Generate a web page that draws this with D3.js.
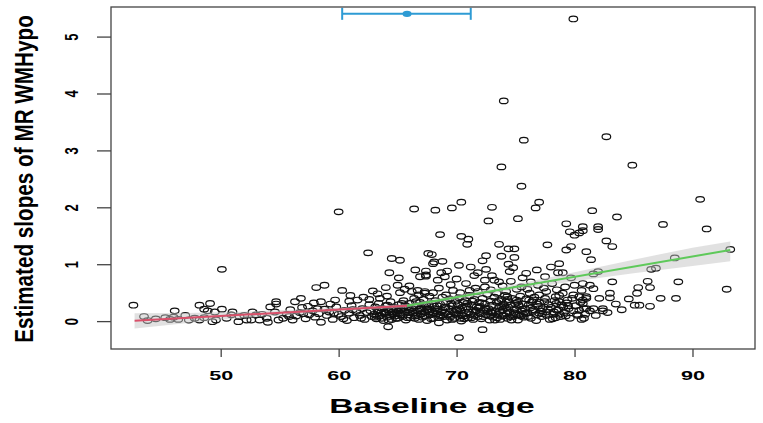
<!DOCTYPE html>
<html>
<head>
<meta charset="utf-8">
<script src="https://cdn.jsdelivr.net/npm/d3@7"></script>
<style>
  body { margin: 0; background: #fff; }
  svg { display: block; }
</style>
</head>
<body>
<div id="chart"></div>
<script>
// [baseline age, estimated slope]
const points = [
  // upper outliers
  [79.9,5.31],[74.0,3.87],[75.7,3.18],[82.7,3.24],[73.8,2.71],[84.9,2.74],[75.5,2.37],[90.65,2.14],
  [60.0,1.92],[66.4,1.97],[68.2,1.95],[69.6,1.99],[70.4,2.09],[73.0,2.0],[77.0,2.09],[76.7,1.99],
  [72.7,1.76],[75.2,1.80],[81.5,1.94],[83.6,1.83],[79.3,1.71],[80.7,1.66],[82.0,1.66],[87.5,1.70],[91.2,1.62],
  [82.0,1.61],[80.7,1.59],[80.4,1.55],[82.7,1.41],[83.2,1.31],[81.0,1.22],[81.4,1.08],[88.5,1.11],[93.2,1.26],
  [86.5,0.91],[86.9,0.93],[82.0,0.87],[81.6,0.83],[83.2,0.69],[86.2,0.70],[88.8,0.69],[92.9,0.56],
  [81.3,0.63],[80.6,0.54],[81.6,0.57],[85.4,0.59],[86.4,0.59],[85.3,0.49],[83.0,0.49],[83.0,0.41],
  [82.1,0.40],[84.6,0.39],[87.3,0.40],[88.6,0.40],[80.7,0.37],[81.0,0.43],[85.1,0.28],[85.5,0.28],
  [86.4,0.26],[80.8,0.22],[81.6,0.22],[82.4,0.22],[82.4,0.18],[81.3,0.18],[80.7,0.31],
  [80.9,0.12],[81.8,0.10],[82.8,0.15],[83.5,0.30],[84.0,0.20],[80.2,0.12],[80.8,0.05],
  [68.6,1.52],[70.4,1.49],[71.0,1.44],[70.9,1.35],[73.6,1.35],[77.7,1.34],[79.6,1.57],[80.0,1.51],
  [79.7,1.31],[79.3,1.25],[74.4,1.27],[74.9,1.27],[67.9,1.17],[72.5,1.15],[72.2,1.06],[73.8,1.14],
  [74.9,1.12],[68.1,1.04],[68.0,1.01],[68.8,1.05],[70.2,0.98],[71.2,0.95],[71.8,0.85],[72.5,0.91],
  [74.4,1.0],[74.8,0.94],[74.5,0.87],[75.9,0.84],[78.7,1.01],[78.6,0.85],
  [67.4,0.88],[67.4,0.79],[68.7,0.85],[69.0,0.78],[68.4,0.72],[66.9,0.78],[72.4,0.72],[73.2,0.72],
  [73.6,0.69],[76.3,0.69],[77.5,0.78],[80.0,0.63],[80.7,0.66],[67.3,0.52],[68.0,0.50],[69.7,0.54],
  [69.1,0.46],[71.1,0.54],[71.8,0.52],[72.4,0.60],[73.4,0.49],[74.2,0.52],[75.1,0.56],[74.3,0.43],
  [76.2,0.49],[77.0,0.46],[77.6,0.52],[76.5,0.37],[78.4,0.43],[79.0,0.49],[78.7,0.34],[79.4,0.37],
  [79.9,0.46],[80.4,0.43],[81.0,0.40],[72.2,-0.15],[70.2,-0.29],[78.4,0.06],[77.0,0.14],[75.3,0.11],
  [73.9,0.09],[72.9,0.16],[70.3,0.05],[68.6,0.09],[67.7,0.16],[67.0,0.22],[80.4,0.19],[81.0,0.22],
  // left part
  [42.6,0.28],[43.5,0.08],[43.8,0.01],[50.1,0.91],[46.1,0.18],[45.3,0.06],[45.7,0.03],[46.4,0.03],
  [46.0,0.07],[48.2,0.28],[49.1,0.31],[48.6,0.21],[48.9,0.18],[50.1,0.21],[49.5,0.16],[47.8,0.05],
  [48.2,0.02],[49.3,-0.01],[49.6,0.02],[48.6,0.06],[50.9,0.11],[51.6,0.08],[51.5,-0.01],[52.2,0.02],
  [52.7,0.16],[53.0,0.11],[52.6,0.02],[53.3,0.02],[53.9,0.05],[54.2,0.25],[54.7,0.30],[54.6,0.16],[54.9,0.02],
  [44.5,0.04],[47.0,0.10],[47.3,0.02],[50.5,0.05],[51.0,0.16],[52.0,0.10],[53.5,0.12],[54.0,-0.02],
  [62.5,1.20],[64.5,1.10],[65.2,1.07],[67.6,1.19],[64.3,0.85],[66.5,0.90],[67.4,0.81],[65.1,0.76],
  [65.0,0.63],[58.1,0.59],[58.8,0.63],[60.3,0.54],[62.9,0.53],[64.0,0.59],[65.6,0.56],[66.2,0.52],
  [66.7,0.54],[67.3,0.49],[54.7,0.34],[56.3,0.34],[57.4,0.26],[58.5,0.34],[59.7,0.37],[60.9,0.35],
  [61.6,0.37],[62.6,0.38],[63.5,0.40],[64.2,-0.10],
  [56.8,0.40],[57.9,0.32],[59.3,0.30],[61.0,0.45],[62.1,0.42],
  // 55 - 63
  [55.3,0.05],[55.6,0.12],[55.9,0.20],[56.1,0.02],[56.4,0.09],[56.7,0.15],[56.9,0.24],[57.2,0.04],
  [57.5,0.11],[57.8,0.18],[58.0,0.07],[58.3,0.13],[58.5,-0.02],[58.8,0.21],[59.0,0.10],[59.2,0.16],
  [59.5,0.03],[59.8,0.25],[60.0,0.12],[60.2,0.08],[60.5,0.19],[60.7,0.01],[60.9,0.14],[61.1,0.27],
  [61.3,0.06],[61.5,0.17],[61.8,0.10],[62.0,0.22],[62.2,0.03],[62.4,0.15],[62.6,0.29],[62.8,0.08],
  [55.8,0.08],[57.0,0.13],[58.2,0.22],[59.6,0.14],[60.4,0.04],[61.2,0.20],[61.9,0.05],[62.7,0.18],
  // dense band
  [63.0,0.12],[63.1,0.25],[63.2,0.04],[63.3,0.18],[63.4,0.31],[63.5,0.09],[63.6,0.15],[63.7,0.22],[63.8,0.01],[63.9,0.13],
  [64.0,0.27],[64.1,0.07],[64.2,0.19],[64.3,0.11],[64.4,0.34],[64.5,0.03],[64.6,0.16],[64.7,0.24],[64.8,0.09],[64.9,0.20],[64.95,0.13],
  [65.0,0.05],[65.1,0.29],[65.2,0.14],[65.3,0.21],[65.4,0.08],[65.5,0.36],[65.6,0.17],[65.7,0.02],[65.8,0.25],[65.9,0.11],[65.95,0.19],
  [66.0,0.31],[66.1,0.06],[66.2,0.22],[66.3,0.14],[66.4,0.40],[66.5,0.09],[66.6,0.27],[66.7,0.18],[66.8,0.03],[66.9,0.33],[66.95,0.12],
  [67.0,0.24],[67.1,0.07],[67.2,0.38],[67.3,0.15],[67.4,0.28],[67.5,0.01],[67.6,0.20],[67.7,0.44],[67.8,0.11],[67.9,0.31],[67.95,0.17],
  [68.0,0.05],[68.1,0.26],[68.2,0.36],[68.3,0.13],[68.4,0.21],[68.5,-0.03],[68.6,0.30],[68.7,0.16],[68.8,0.42],[68.9,0.08],[68.95,0.24],
  [69.0,0.14],[69.1,0.33],[69.2,0.02],[69.3,0.22],[69.4,0.39],[69.5,0.10],[69.6,0.27],[69.7,0.17],[69.8,0.05],[69.9,0.35],[69.95,0.20],
  [70.0,0.12],[70.1,0.29],[70.2,0.41],[70.3,0.18],[70.4,0.00],[70.5,0.24],[70.6,0.09],[70.7,0.36],[70.8,0.15],[70.9,0.31],[70.95,0.06],
  [71.0,0.21],[71.1,0.45],[71.2,0.12],[71.3,0.28],[71.4,0.03],[71.5,0.38],[71.6,0.17],[71.7,0.25],[71.8,0.08],[71.9,0.33],[71.95,0.14],
  [72.0,0.26],[72.1,0.04],[72.2,0.40],[72.3,0.19],[72.4,0.30],[72.5,0.11],[72.6,0.47],[72.7,0.22],[72.8,0.02],[72.9,0.35],[72.95,0.15],
  [73.0,0.28],[73.1,0.07],[73.2,0.42],[73.3,0.18],[73.4,0.33],[73.5,0.12],[73.6,0.24],[73.7,0.03],[73.8,0.38],[73.9,0.20],[73.95,0.30],
  [74.0,0.10],[74.1,0.45],[74.2,0.23],[74.3,0.05],[74.4,0.34],[74.5,0.16],[74.6,0.28],[74.7,0.40],[74.8,0.08],[74.9,0.21],[74.95,0.31],
  [75.0,0.13],[75.1,0.37],[75.2,0.02],[75.3,0.26],[75.4,0.44],[75.5,0.18],[75.6,0.30],[75.7,0.07],[75.8,0.22],[75.9,0.39],
  [76.0,0.15],[76.1,0.28],[76.3,0.05],[76.4,0.34],[76.5,0.20],[76.6,0.42],[76.8,0.11],[76.9,0.26],
  [77.0,0.33],[77.2,0.08],[77.3,0.22],[77.5,0.40],[77.6,0.16],[77.8,0.29],[77.9,0.03],
  [78.0,0.24],[78.2,0.12],[78.3,0.36],[78.5,0.19],[78.7,0.45],[78.8,0.08],[78.9,0.28],
  [79.1,0.15],[79.3,0.32],[79.5,0.22],[79.6,0.05],[79.8,0.40],[79.9,0.18],
  [80.1,0.27],[80.3,0.10],[80.5,0.33],[80.6,0.03],
  [63.05,0.07],[63.45,0.20],[63.85,0.16],[64.25,0.01],[64.65,0.12],[65.05,0.18],[65.45,0.23],[65.85,0.06],
  [66.25,0.17],[66.65,0.10],[67.05,0.13],[67.45,0.21],[67.85,0.04],[68.25,0.18],[68.65,0.11],[69.05,0.25],
  [69.45,0.07],[69.85,0.15],[70.25,0.22],[70.65,0.04],[71.05,0.16],[71.45,0.10],[71.85,0.23],[72.25,0.08],
  [72.65,0.17],[73.05,0.14],[73.45,0.06],[73.85,0.25],[74.25,0.13],[74.65,0.02],[75.05,0.20],[75.45,0.09],
  [75.85,0.14],[76.25,0.23],[76.75,0.01],[77.15,0.18],[77.65,0.10],[78.15,0.04],[78.65,0.20],[79.25,0.09],
  [63.25,0.10],[63.65,0.05],[64.05,0.15],[64.45,0.22],[64.85,0.05],[65.25,0.11],[65.65,0.27],[66.05,0.15],
  [66.45,0.05],[66.85,0.21],[67.25,0.09],[67.65,0.26],[68.05,0.14],[68.45,0.06],[68.85,0.19],[69.25,0.12],
  [69.65,0.03],[70.05,0.20],[70.45,0.11],[70.85,0.25],[71.25,0.06],[71.65,0.19],[72.05,0.13],[72.45,0.23],
  [72.85,0.09],[73.25,0.02],[73.65,0.17],[74.05,0.27],[74.45,0.08],[74.85,0.15],[75.25,0.29],[75.65,0.12],
  [76.05,0.08],[76.45,0.17],[76.85,0.30],[77.25,0.13],[77.75,0.21],[78.25,0.16],[78.75,0.12],[79.45,0.27],
  [64.15,0.28],[65.35,0.31],[66.55,0.34],[67.15,0.29],[68.35,0.27],[69.55,0.31],[70.55,0.33],[71.35,0.35],
  [72.15,0.32],[73.55,0.36],[74.35,0.38],[75.15,0.33],[76.15,0.37],[77.45,0.34],[78.45,0.31],[79.05,0.25],
  // middle cloud 0.4 - 1
  [63.3,0.48],[64.1,0.44],[65.2,0.50],[66.0,0.62],[66.8,0.46],[68.5,0.58],[69.5,0.64],[70.3,0.50],
  [70.8,0.66],[71.6,0.58],[72.9,0.55],[73.9,0.62],[74.6,0.70],[75.5,0.60],[76.0,0.56],[76.9,0.63],
  [77.4,0.58],[78.1,0.66],[78.5,0.55],[79.2,0.60],[79.7,0.76],[75.6,0.76],[73.0,0.80],[70.0,0.74],
  [69.2,0.88],[71.5,0.80],[76.8,0.90],[78.0,0.95],[79.0,0.85]
];

const xTicks = [50, 60, 70, 80, 90];
const yTicks = [0, 1, 2, 3, 4, 5];

// broken-line fit: start, breakpoint, end
const fitAge = [42.7, 65.8, 93.2];
const fitEst = [0.005, 0.27, 1.25];

// confidence bands
const bandAgeA = [42.7, 47, 51, 55, 59, 62, 65.8];
const bandLowA = [-0.13, -0.036, 0.04, 0.10, 0.155, 0.196, 0.24];
const bandHighA = [0.14, 0.144, 0.16, 0.19, 0.225, 0.256, 0.30];
const bandAgeB = [65.8, 70, 75, 80, 85, 90, 93.2];
const bandLowB = [0.24, 0.385, 0.55, 0.70, 0.84, 0.97, 1.05];
const bandHighB = [0.30, 0.455, 0.65, 0.86, 1.08, 1.29, 1.40];

// breakpoint estimate with interval
const breakAge = [60.3, 65.8, 71.2];
const breakY = 5.4;

const width = 763, height = 423;
const box = {left: 111, right: 755, top: 7, bottom: 349};
const font = "'Liberation Sans', Arial, Helvetica, sans-serif";

const svg = d3.select("#chart").append("svg")
    .attr("width", width)
    .attr("height", height);

svg.append("rect").attr("width", width).attr("height", height).attr("fill", "#fff");

const x = d3.scaleLinear().domain([40.7, 95.3]).range([box.left, box.right]);
const y = d3.scaleLinear().domain([-0.49, 5.52]).range([box.bottom, box.top]);

// points
svg.append("g").selectAll("ellipse")
    .data(points)
    .enter()
    .append("ellipse")
        .attr("cx", d => x(d[0]))
        .attr("cy", d => y(d[1]))
        .attr("rx", 4.3)
        .attr("ry", 2.8)
        .attr("fill", "none")
        .attr("stroke", "#111")
        .attr("stroke-width", 1.2);

// bands
const area = d3.area().x(d => x(d[0])).y0(d => y(d[1])).y1(d => y(d[2]));
[[bandAgeA, bandLowA, bandHighA], [bandAgeB, bandLowB, bandHighB]].forEach(function(b) {
    const rows = b[0].map((a, i) => [a, b[1][i], b[2][i]]);
    svg.append("path")
        .attr("d", area(rows))
        .attr("fill", "#c4c4c4")
        .attr("opacity", 0.5);
});

// fitted lines
const line = d3.line().x(d => x(d[0])).y(d => y(d[1]));
svg.append("path")
    .attr("d", line([[fitAge[0], fitEst[0]], [fitAge[1], fitEst[1]]]))
    .attr("stroke", "#d9506a").attr("stroke-width", 2).attr("fill", "none");
svg.append("path")
    .attr("d", line([[fitAge[1], fitEst[1]], [fitAge[2], fitEst[2]]]))
    .attr("stroke", "#5ec95a").attr("stroke-width", 2).attr("fill", "none");

// breakpoint interval
const blue = "#2e9bd4";
const eb = svg.append("g").attr("stroke", blue).attr("stroke-width", 2);
eb.append("line").attr("x1", x(breakAge[0])).attr("x2", x(breakAge[2]))
    .attr("y1", y(breakY)).attr("y2", y(breakY));
[breakAge[0], breakAge[2]].forEach(function(a) {
    eb.append("line").attr("x1", x(a)).attr("x2", x(a))
        .attr("y1", y(breakY) - 6).attr("y2", y(breakY) + 6);
});
svg.append("ellipse").attr("cx", x(breakAge[1])).attr("cy", y(breakY))
    .attr("rx", 4.5).attr("ry", 3.2).attr("fill", blue);

// box
svg.append("rect")
    .attr("x", box.left).attr("y", box.top)
    .attr("width", box.right - box.left).attr("height", box.bottom - box.top)
    .attr("fill", "none").attr("stroke", "#444").attr("stroke-width", 1.3);

// axes
const xAxis = svg.append("g")
    .attr("transform", `translate(0, ${box.bottom})`)
    .call(d3.axisBottom(x).tickValues(xTicks).tickSize(8).tickFormat(d3.format("d")));
xAxis.select(".domain").remove();
xAxis.selectAll("line").attr("stroke", "#444").attr("stroke-width", 1.3);
xAxis.selectAll("text")
    .attr("font-family", font).attr("font-weight", "bold").attr("font-size", 13.5)
    .attr("fill", "#000")
    .attr("y", 31).attr("dy", 0)
    .attr("transform", "scale(1.6,1)");

const yAxis = svg.append("g")
    .attr("transform", `translate(${box.left}, 0)`)
    .call(d3.axisLeft(y).tickValues(yTicks).tickSize(14).tickFormat(d3.format("d")));
yAxis.select(".domain").remove();
yAxis.selectAll("line").attr("stroke", "#444").attr("stroke-width", 1.3);
yAxis.selectAll("text")
    .attr("font-family", font).attr("font-weight", "bold").attr("font-size", 13)
    .attr("fill", "#000")
    .attr("x", 0).attr("dy", 0)
    .attr("text-anchor", "middle")
    .attr("transform", "translate(-33,0) scale(1.45,1) rotate(-90)");

// axis titles
svg.append("text")
    .attr("transform", "translate(432,413) scale(1.6,1)")
    .attr("text-anchor", "middle")
    .attr("font-family", font).attr("font-weight", "bold").attr("font-size", 21)
    .text("Baseline age");

svg.append("text")
    .attr("transform", "translate(33,179) scale(1.22,1) rotate(-90)")
    .attr("text-anchor", "middle")
    .attr("font-family", font).attr("font-weight", "bold").attr("font-size", 20.7)
    .text("Estimated slopes of MR WMHypo");
</script>
</body>
</html>
